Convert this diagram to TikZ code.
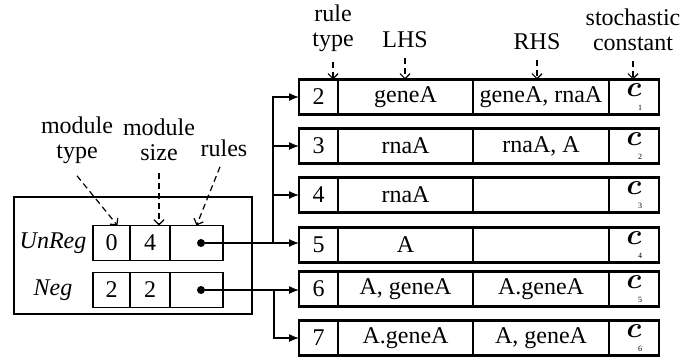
\documentclass[tikz,border=0pt]{standalone}
\usepackage{amsmath}
\usepackage{fontspec}
\setmainfont{Liberation Serif}
\usetikzlibrary{arrows.meta, positioning}

\begin{document}
\begin{tikzpicture}[x=0.5pt,y=-0.5pt,
 font=\fontsize{12}{12.5}\selectfont,
 cell/.style={draw, line width=0.7pt, minimum height=17.5pt, inner sep=0pt, outer sep=0pt},
 note/.style={align=center, inner sep=0pt},
 dot/.style={circle, fill, inner sep=0pt, minimum size=4pt},
 conn/.style={line width=0.65pt, -{Latex[length=5pt,width=4pt]}},
 hint/.style={line width=0.6pt, dash pattern=on 3pt off 2pt, -{Straight Barb[length=2.5pt,width=5pt]}}]
  \useasboundingbox (0,0) rectangle (699,360);

  % rule table
  \foreach \r/\y/\k/\lhs/\rhs in {1/97/2/geneA/{geneA, rnaA}, 2/146/3/rnaA/{rnaA, A},
     3/195/4/rnaA/{}, 4/245/5/A/{}, 5/289/6/{A, geneA}/A.geneA, 6/338/7/A.geneA/{A, geneA}} {
   \node[cell, minimum width=19.5pt, anchor=west] (n\r) at (299,\y) {\k};
   \node[cell, minimum width=67.5pt, right=0pt of n\r] (l\r) {\lhs};
   \node[cell, minimum width=68pt, right=0pt of l\r] (h\r) {\rhs};
   \node[cell, minimum width=25pt, right=0pt of h\r] (c\r) {};
   \node[font=\fontsize{14}{14}\selectfont, inner sep=0pt] at ([yshift=3.5pt]c\r.center) {$\boldsymbol{c}$};
   \node[font=\fontsize{4}{4}\selectfont, inner sep=0pt] at ([xshift=3pt,yshift=-5.5pt]c\r.center) {\r};
   \draw[line width=1.3pt] (n\r.north west) rectangle (c\r.south east);}

  \node[note] (rt) at (333,28) {rule\\type};
  \node[note] (lhs) at (405,40) {LHS};
  \node[note] (rhs) at (537,42) {RHS};
  \node[note] (sc) at (633,30) {stochastic\\constant};
  \draw[hint] ([yshift=-5pt]rt.south) -- (rt.south |- n1.north);
  \draw[hint] ([yshift=-5pt]lhs.south) -- (lhs.south |- l1.north);
  \draw[hint] ([yshift=-5pt]rhs.south) -- (rhs.south |- h1.north);
  \draw[hint] ([yshift=-5pt]sc.south) -- (sc.south |- c1.north);

  % modules
  \draw[line width=0.75pt] (14,197) rectangle (252,314);
  \foreach \m/\y/\name/\t/\s in {u/243/UnReg/0/4, g/290/Neg/2/2} {
   \node[cell, minimum width=18.5pt, anchor=west] (\m1) at (93,\y) {\t};
   \node[cell, minimum width=20pt, right=0pt of \m1] (\m2) {\s};
   \node[cell, minimum width=26.5pt, right=0pt of \m2] (\m3) {};
   \node[dot] (d\m) at (201,\y) {};
   \node[font=\itshape\fontsize{12}{12}\selectfont] at (53,\y) {\name};}

  \node[note] (mt) at (77,140) {module\\type};
  \node[note] (ms) at (159,140) {module\\size};
  \node[note] (ru) at (224,148) {rules};
  \draw[hint] ([yshift=-6pt]mt.south) -- ([xshift=3pt]u1.north);
  \draw[hint] ([yshift=-6pt]ms.south) -- (ms.south |- u2.north);
  \draw[hint] ([xshift=-2pt,yshift=-5pt]ru.south) -- (u3.north);

  % pointers
  \coordinate (busU) at (273,243);
  \coordinate (busG) at (274,290);
  \draw[conn] (du) -- (du -| n4.west);
  \foreach \r in {1,2,3} {
   \draw[conn] (busU) |- (n\r.west);}
  \draw[conn] (dg) -- (dg -| n5.west);
  \draw[conn] (busG) |- (n6.west);
\end{tikzpicture}
\end{document}
